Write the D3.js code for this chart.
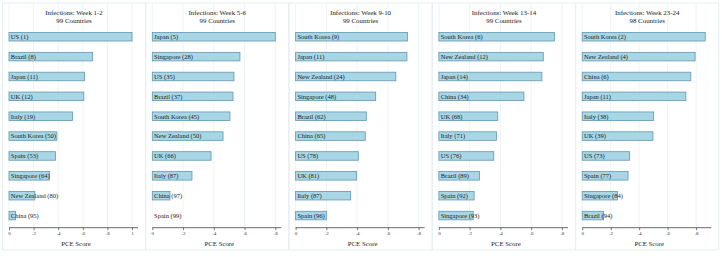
<!DOCTYPE html>
<html><head><meta charset="utf-8">
<script src="https://cdn.jsdelivr.net/npm/d3@7"></script>
<style>body{margin:0;background:#fff}svg{display:block}</style>
</head><body>
<svg id="chart" width="722" height="257"></svg>
<script>
const panelTitles = ["Infections: Week 1-2","Infections: Week 5-6","Infections: Week 9-10","Infections: Week 13-14","Infections: Week 23-24"];
const panelSubtitles = ["99 Countries","99 Countries","99 Countries","99 Countries","98 Countries"];

const week1Countries = ["US","Brazil","Japan","UK","Italy","South Korea","Spain","Singapore","New Zealand","China"];
const week1Ranks = [1,8,11,12,19,50,53,64,80,95];
const week1Scores = [1.0,0.68,0.614,0.608,0.516,0.389,0.378,0.33,0.21,0.054];

const week5Countries = ["Japan","Singapore","US","Brazil","South Korea","New Zealand","UK","Italy","China","Spain"];
const week5Ranks = [5,28,35,37,45,50,66,87,97,99];
const week5Scores = [0.80,0.57,0.531,0.525,0.505,0.46,0.382,0.258,0.115,0.0];

const week9Countries = ["South Korea","Japan","New Zealand","Singapore","Brazil","China","US","UK","Italy","Spain"];
const week9Ranks = [9,11,24,48,62,65,78,81,87,96];
const week9Scores = [0.728,0.724,0.652,0.521,0.46,0.453,0.408,0.397,0.358,0.2];

const week13Countries = ["South Korea","New Zealand","Japan","China","UK","Italy","US","Brazil","Spain","Singapore"];
const week13Ranks = [6,12,14,34,68,71,76,89,92,93];
const week13Scores = [0.751,0.679,0.670,0.553,0.383,0.374,0.357,0.264,0.229,0.223];

const week23Countries = ["South Korea","New Zealand","China","Japan","Italy","UK","US","Spain","Singapore","Brazil"];
const week23Ranks = [2,4,6,11,38,39,73,77,84,94];
const week23Scores = [0.864,0.793,0.763,0.728,0.502,0.497,0.332,0.322,0.248,0.150];

const panelTicks = [[0,0.2,0.4,0.6,0.8,1],[0,0.2,0.4,0.6,0.8],[0,0.2,0.4,0.6,0.8],[0,0.2,0.4,0.6,0.8],[0,0.2,0.4,0.6,0.8]];
const axisTitle = "PCE Score";

const panelCountries = [week1Countries,week5Countries,week9Countries,week13Countries,week23Countries];
const panelRanks = [week1Ranks,week5Ranks,week9Ranks,week13Ranks,week23Ranks];
const panelScores = [week1Scores,week5Scores,week9Scores,week13Scores,week23Scores];

const svg = d3.select("#chart");
const font = "'Liberation Serif','Times New Roman',serif";
const panelW = 143.3, panelLeft0 = 2.5;
const axisY = 227.7;

const fmt = v => v === 0 ? "0" : (v === 1 ? "1" : String(v).replace(/^0/, ""));

for (let p = 0; p < 5; p++) {
  const left = panelLeft0 + p * panelW;
  const g = svg.append("g");
  const countries = panelCountries[p], ranks = panelRanks[p], scores = panelScores[p];
  const ticks = panelTicks[p];
  const maxV = Math.max(d3.max(scores), d3.max(ticks));
  const x = d3.scaleLinear().domain([0, maxV]).range([left + 6.5, left + 129.5]);
  const y = d3.scaleBand().domain(countries).range([26.5, 225.8]).paddingInner(0.57).paddingOuter(0.3);

  // frame
  g.append("rect").attr("x", left).attr("y", 3).attr("width", 143).attr("height", 247)
    .attr("fill", "#fff").attr("stroke", "#e6edf0").attr("stroke-width", 1);

  // gridlines
  g.selectAll("line.grid").data(ticks).join("line")
    .attr("x1", d => x(d)).attr("x2", d => x(d))
    .attr("y1", 4).attr("y2", axisY)
    .attr("stroke", "#e9f1f3").attr("stroke-width", 0.8);

  // titles
  g.append("text").attr("x", left + 71.5).attr("y", 15.2).attr("text-anchor", "middle")
    .attr("font-family", font).attr("font-size", 6.9).attr("fill", "#222").text(panelTitles[p]);
  g.append("text").attr("x", left + 71.5).attr("y", 23.2).attr("text-anchor", "middle")
    .attr("font-family", font).attr("font-size", 6.9).attr("fill", "#222").text(panelSubtitles[p]);

  // bars
  g.selectAll("rect.bar").data(countries).join("rect")
    .attr("x", x(0))
    .attr("y", d => y(d))
    .attr("width", (d, i) => x(scores[i]) - x(0))
    .attr("height", y.bandwidth())
    .attr("fill", "#a9d6e5")
    .attr("stroke", (d, i) => scores[i] > 0 ? "#5f97b3" : "none")
    .attr("stroke-width", 0.8);

  // bar labels
  g.selectAll("text.lab").data(countries).join("text")
    .attr("x", x(0) + 1.8)
    .attr("y", d => y(d) + y.bandwidth() / 2 + 2.3)
    .attr("font-family", font).attr("font-size", 6.5).attr("fill", "#1a1a1a")
    .text((d, i) => `${d} (${ranks[i]})`);

  // axis
  const axis = d3.axisBottom(x).tickValues(ticks).tickFormat(fmt).tickSize(2.5).tickPadding(1.5);
  const ag = g.append("g").attr("transform", `translate(0,${axisY})`).call(axis);
  ag.select(".domain").attr("d", `M${x(0)},0H${left + 135.5}`).attr("stroke", "#444").attr("stroke-width", 0.8);
  ag.selectAll(".tick line").attr("stroke", "#444").attr("stroke-width", 0.7);
  ag.selectAll(".tick text").attr("font-family", font).attr("font-size", 5).attr("fill", "#333");

  g.append("text").attr("x", left + 73.5).attr("y", 245.8).attr("text-anchor", "middle")
    .attr("font-family", font).attr("font-size", 6.8).attr("fill", "#222").text(axisTitle);
}
</script>
</body></html>
